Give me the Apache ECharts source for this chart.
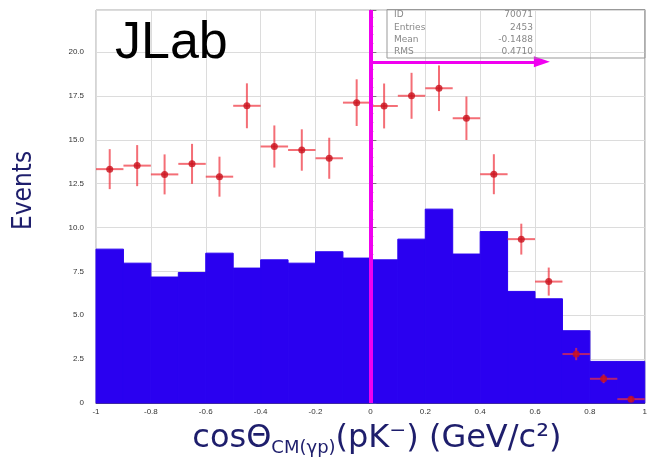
<!DOCTYPE html>
<html><head><meta charset="utf-8">
<script src="https://cdn.jsdelivr.net/npm/echarts@6/dist/echarts.min.js"></script>
<style>html,body{margin:0;padding:0;background:#fff}#c{width:650px;height:465px}</style>
</head><body><div id="c"></div>
<script>
// ---- data ----
const binLow = [-1.0,-0.9,-0.8,-0.7,-0.6,-0.5,-0.4,-0.3,-0.2,-0.1,0.0,0.1,0.2,0.3,0.4,0.5,0.6,0.7,0.8,0.9];
const binWidth = 0.1;
const histCounts = [8.77,7.97,7.18,7.44,8.54,7.69,8.16,7.97,8.62,8.26,8.16,9.34,11.05,8.49,9.77,6.36,5.94,4.12,2.37,2.37];
const pointX = [-0.95,-0.85,-0.75,-0.65,-0.55,-0.45,-0.35,-0.25,-0.15,-0.05,0.05,0.15,0.25,0.35,0.45,0.55,0.65,0.75,0.85,0.95];
const pointY = [13.33,13.53,13.03,13.63,12.90,16.94,14.62,14.42,13.95,17.12,16.93,17.51,17.94,16.23,13.04,9.34,6.92,2.79,1.38,0.22];
const pointErrY = [1.14,1.17,1.14,1.14,1.14,1.28,1.20,1.18,1.17,1.33,1.28,1.31,1.30,1.24,1.14,0.88,0.80,0.35,0.25,0.15];
const pointErrX = 0.05;
const xTickValues = [-1,-0.8,-0.6,-0.4,-0.2,0,0.2,0.4,0.6,0.8,1];
const xTickLabels = ['-1','-0.8','-0.6','-0.4','-0.2','0','0.2','0.4','0.6','0.8','1'];
const yTickValues = [0,2.5,5,7.5,10,12.5,15,17.5,20];
const yTickLabels = ['0','2.5','5.0','7.5','10.0','12.5','15.0','17.5','20.0'];
const yMax = 22.4;
const cutX = 0;
const arrowY = 19.45;
const arrowEndX = 0.625;
const statsLabels = ['ID','Entries','Mean','RMS'];
const statsValues = ['70071','2453','-0.1488','0.4710'];

// ---- chart ----
const navy = '#1e1e6c';
function lab(vals, labels){
  return function(v){
    for (let i=0;i<vals.length;i++){ if (Math.abs(v-vals[i])<1e-6) return labels[i]; }
    return '';
  };
}
const histData = binLow.map((x,i)=>[x, x+binWidth, histCounts[i]]);
const errData = pointX.map((x,i)=>[x, pointY[i], pointErrX, pointErrY[i]]);
const ptData = pointX.map((x,i)=>[x, pointY[i]]);

const graphics = [
  {type:'text', x:115, y:44, z:100, style:{text:'JLab', font:'52px "Liberation Sans", Arial, sans-serif', fill:'#000', verticalAlign:'middle'}},
  {type:'rect', z:50, shape:{x:387, y:9.5, width:258, height:48.5}, style:{fill:'none', stroke:'#999', lineWidth:1}}
];
statsLabels.forEach((t,i)=>{
  graphics.push({type:'text', x:394, y:15+i*12.3, z:60, style:{text:t, font:'9px "DejaVu Sans", sans-serif', fill:'#888', verticalAlign:'middle'}});
  graphics.push({type:'text', x:533, y:15+i*12.3, z:60, style:{text:statsValues[i], font:'9px "DejaVu Sans", sans-serif', fill:'#888', align:'right', verticalAlign:'middle'}});
});

const chart = echarts.init(document.getElementById('c'), null, {renderer:'canvas'});
chart.setOption({
  animation:false,
  backgroundColor:'#fff',
  grid:{left:96, right:5, top:10, bottom:62, show:true, borderColor:'#aaa', borderWidth:1, backgroundColor:'transparent'},
  xAxis:{
    type:'value', min:-1, max:1, interval:0.2,
    axisLine:{show:true, onZero:false, lineStyle:{color:'#555'}},
    axisTick:{show:false},
    splitLine:{show:true, lineStyle:{color:'#dcdcdc'}},
    axisLabel:{fontSize:8, color:'#333', margin:5, formatter:lab(xTickValues,xTickLabels)},
    name:'{a|cosΘ}{b|CM(γp)}{a|(pK⁻) (GeV/c²)}',
    nameLocation:'middle', nameGap:17,
    nameTextStyle:{padding:[0,0,0,13], rich:{
      a:{fontSize:32, lineHeight:37, fontFamily:'"DejaVu Sans", sans-serif', color:navy},
      b:{fontSize:18, verticalAlign:'bottom', fontFamily:'"DejaVu Sans", sans-serif', color:navy}
    }}
  },
  yAxis:{
    type:'value', min:0, max:yMax, interval:2.5,
    axisLine:{show:true, lineStyle:{color:'#888'}},
    axisTick:{show:true, inside:true, length:6, lineStyle:{color:'#777'}},
    minorTick:{show:true, splitNumber:5, length:3, lineStyle:{color:'#999'}},
    splitLine:{show:true, lineStyle:{color:'#dcdcdc'}},
    axisLabel:{fontSize:8, color:'#333', margin:12, showMaxLabel:false, formatter:lab(yTickValues,yTickLabels)},
    name:'Events', nameLocation:'middle', nameRotate:90, nameGap:59,
    nameTextStyle:{fontSize:26, color:navy, fontFamily:'"Liberation Sans Narrow","DejaVu Sans Condensed",sans-serif', padding:[0,0,0,32]}
  },
  graphic:graphics,
  series:[
    {
      type:'custom', name:'hist', data:histData, encode:{x:[0,1], y:2}, z:2,
      renderItem:function(params, api){
        const p0 = api.coord([api.value(0), api.value(2)]);
        const p1 = api.coord([api.value(1), 0]);
        return {type:'rect', shape:{x:p0[0], y:p0[1], width:p1[0]-p0[0], height:p1[1]-p0[1]}, style:{fill:'#2a00f0', stroke:'#2a00f0', lineWidth:1}};
      }
    },
    {
      type:'custom', name:'err', data:errData, encode:{x:0, y:1}, z:4,
      renderItem:function(params, api){
        const x = api.value(0), y = api.value(1), ex = api.value(2), ey = api.value(3);
        const a = api.coord([x-ex, y]), b = api.coord([x+ex, y]);
        const c = api.coord([x, y-ey]), d = api.coord([x, y+ey]);
        const st = {stroke:'#f0303c', lineWidth:2, opacity:0.7};
        return {type:'group', children:[
          {type:'line', shape:{x1:a[0], y1:a[1], x2:b[0], y2:b[1]}, style:st},
          {type:'line', shape:{x1:c[0], y1:c[1], x2:d[0], y2:d[1]}, style:st}
        ]};
      }
    },
    {
      type:'scatter', name:'data', data:ptData, symbol:'circle', symbolSize:7, z:5,
      itemStyle:{color:'#c8101c'},
      markLine:{
        silent:true, animation:false, symbol:'none', label:{show:false},
        lineStyle:{color:'#f000f0', width:4, type:'solid', opacity:1},
        data:[
          [{coord:[cutX,0], symbol:'none'},{coord:[cutX,yMax], symbol:'none'}],
          [{coord:[cutX,arrowY], symbol:'none', lineStyle:{width:3, color:'#f000f0', type:'solid'}},{coord:[arrowEndX,arrowY], symbol:'triangle', symbolSize:[11,16]}]
        ]
      }
    }
  ]
});
</script>
</body></html>
